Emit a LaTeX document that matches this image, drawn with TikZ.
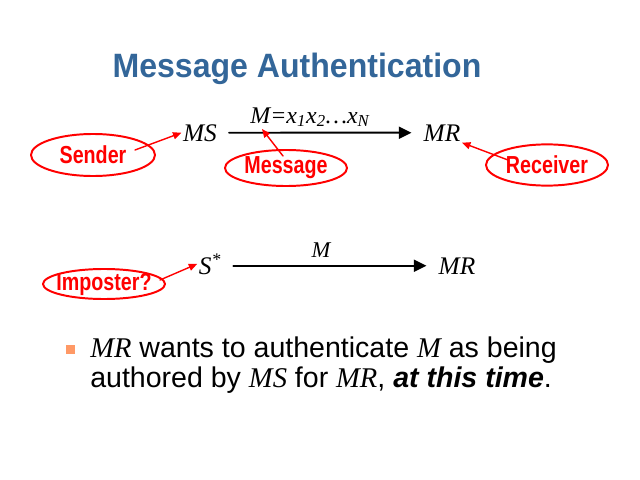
\documentclass[tikz,border=0pt]{standalone}
\usepackage{fontspec}
\setmainfont{Liberation Sans}
\newfontfamily\timesfont{Liberation Serif}
\newfontfamily\narrowfont[FakeStretch=0.8]{Liberation Sans}
\newfontfamily\titlefont[FakeStretch=0.95]{Liberation Sans}
\usetikzlibrary{arrows.meta,shapes.geometric}

\definecolor{titleblue}{RGB}{51,102,153}
\definecolor{bulletorange}{RGB}{255,153,102}

\newcommand{\mvar}[1]{{\timesfont\itshape #1}}

\tikzset{
    party/.style={font=\timesfont\itshape\fontsize{18}{18}\selectfont, inner sep=1pt, anchor=base},
    tag/.style={ellipse, draw=red, line width=1.4pt, inner sep=0pt},
    tagtext/.style={text=red, font=\narrowfont\bfseries\fontsize{17.5}{17.5}\selectfont},
    flow/.style={-{Triangle[length=9pt,width=8.5pt]}, line width=1.4pt, shorten <=7.5pt, shorten >=7.5pt},
    ptr/.style={red, line width=1pt, -{Triangle[length=6pt,width=5pt]}}
}

\begin{document}
\begin{tikzpicture}[x=0.025cm,y=-0.025cm,line cap=round,line join=round]
    \useasboundingbox (0,0) rectangle (640,480);
    
    % title
    \node[anchor=base, text=titleblue, font=\titlefont\bfseries\fontsize{24}{24}\selectfont] (title) at (297,77) {Message Authentication};
    
    % first row: sender to receiver
    \node[party] (ms) at (200,141) {MS};
    \node[party] (mr1) at (442,141) {MR};
    \node[party, font=\timesfont\itshape\fontsize{17}{17}\selectfont] (msgvar) at (310,123) {M=x\textsubscript{1}x\textsubscript{2}\ldots x\textsubscript{N}};
    \draw[flow] (ms) -- (mr1);
    
    % second row: imposter
    \node[party] (sstar) at (210,274) {S\textsuperscript{*}};
    \node[party] (mr2) at (457,274) {MR};
    \node[party, font=\timesfont\itshape\fontsize{16}{16}\selectfont] (mvar) at (321,257) {M};
    \draw[flow] (sstar.east |- mr2) -- (mr2);
    
    % red callouts
    \node[tag, minimum width=3.1cm, minimum height=1.05cm, label={[tagtext]center:Sender}] (sender) at (93,155) {};
    \node[tag, minimum width=3.05cm, minimum height=0.9cm, label={[tagtext]center:Message}] (message) at (286,168) {};
    \node[tag, minimum width=3.05cm, minimum height=1.03cm, label={[tagtext]center:Receiver}] (receiver) at (547,165) {};
    \node[tag, minimum width=3.05cm, minimum height=0.75cm, label={[tagtext]center:Imposter?}] (imposter) at (104,284) {};
    
    \coordinate (sendertail) at (135,150);
    \coordinate (msgtail) at (283,156);
    \coordinate (msgtip) at (262,129);
    \coordinate (rcvtail) at (508,160);
    \coordinate (imptail) at (160,280);
    \draw[ptr] (sendertail) -- (ms.west);
    \draw[ptr] (msgtail) -- (msgtip);
    \draw[ptr] (rcvtail) -- (mr1.south east);
    \draw[ptr] (imptail) -- (sstar.west);
    
    % bullet point
    \node[fill=bulletorange, minimum size=0.225cm, inner sep=0pt] (bullet) at (70.5,349.5) {};
    \node[anchor=base west, align=left, inner sep=0pt, font=\fontsize{20.3}{21.3}\selectfont] (point) at (90,387) {\mvar{MR} wants to authenticate \mvar{M} as being\\authored by \mvar{MS} for \mvar{MR}, \textbf{\textit{at this time}}.};
    
\end{tikzpicture}
\end{document}
